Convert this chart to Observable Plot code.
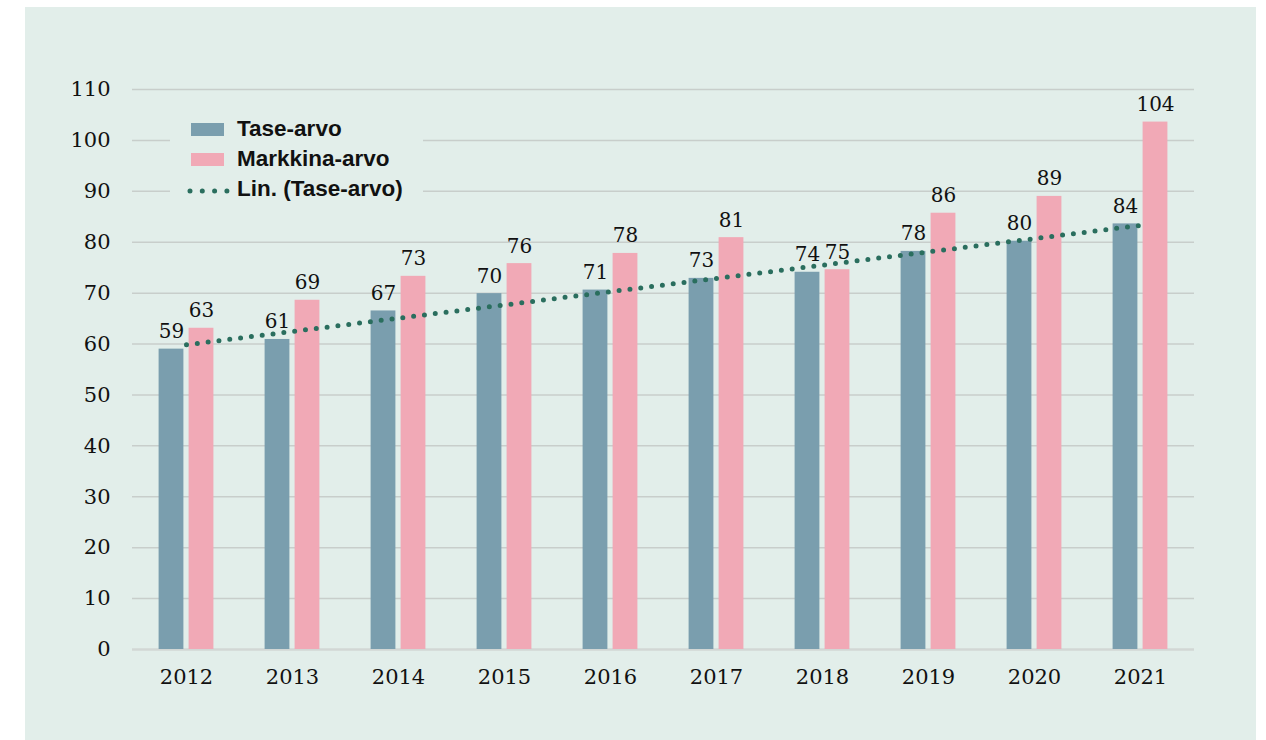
<!DOCTYPE html>
<html><head><meta charset="utf-8">
<script src="https://cdn.jsdelivr.net/npm/d3@7"></script>
<script src="https://cdn.jsdelivr.net/npm/@observablehq/plot@0.6"></script>
<style>
html,body{margin:0;padding:0;background:#ffffff;}
#panel{position:absolute;left:25px;top:7px;width:1231px;height:733px;background:#e2eeea;}
#chart{position:absolute;left:0;top:0;}
#legend{position:absolute;left:170px;top:104px;}
</style>
</head><body>
<div id="panel"></div>
<div id="chart"></div>
<div id="legend"></div>
<script>
// ---- data ----
const years = [2012, 2013, 2014, 2015, 2016, 2017, 2018, 2019, 2020, 2021];
const taseArvo = [59.0, 60.9, 66.5, 69.9, 70.6, 72.9, 74.1, 78.2, 80.2, 83.6];
const markkinaArvo = [63.1, 68.6, 73.3, 75.8, 77.8, 80.9, 74.6, 85.7, 89.0, 103.6];
const seriesNames = ["Tase-arvo", "Markkina-arvo", "Lin. (Tase-arvo)"];
const yTicks = [0, 10, 20, 30, 40, 50, 60, 70, 80, 90, 100, 110];

const colTase = "#7a9eae";
const colMark = "#f1a9b6";
const colTrend = "#2a6e5e";
const bg = "#e2eeea";

const tase = years.map((y, i) => ({year: y, value: taseArvo[i]}));
const mark = years.map((y, i) => ({year: y, value: markkinaArvo[i]}));

// linear trend of Tase-arvo (least squares over the year index)
const n = years.length;
const mx = d3.mean(d3.range(n));
const my = d3.mean(taseArvo);
const slope = d3.sum(d3.range(n), i => (i - mx) * (taseArvo[i] - my)) / d3.sum(d3.range(n), i => (i - mx) ** 2);
const trend = years.map((y, i) => ({year: y, value: my + slope * (i - mx)}));

const W = 1266, H = 740;
const mL = 132, mR = 72, mT = 89, mB = 91;
const bw = (W - mL - mR) / years.length;
const barW = 25, gap = 5;
const offs = (barW + gap) / 2;

const serif = "'DejaVu Serif', 'Liberation Serif', serif";

const chart = Plot.plot({
  width: W, height: H,
  marginLeft: mL, marginRight: mR, marginTop: mT, marginBottom: mB,
  style: {background: "transparent", fontFamily: serif, fontSize: "21px", color: "#111"},
  x: {type: "band", domain: years, padding: 0, label: null},
  y: {domain: [0, 110], label: null},
  marks: [
    Plot.ruleY(yTicks.filter(d => d > 0), {stroke: "#c8cecb", strokeWidth: 1.5}),
    Plot.ruleY([0], {stroke: "#d2d7d5", strokeWidth: 2.5}),
    Plot.barY(tase, {x: "year", y: "value", fill: colTase,
      insetLeft: bw / 2 - offs - barW / 2, insetRight: bw / 2 + offs - barW / 2}),
    Plot.barY(mark, {x: "year", y: "value", fill: colMark,
      insetLeft: bw / 2 + offs - barW / 2, insetRight: bw / 2 - offs - barW / 2}),
    Plot.line(trend, {x: "year", y: "value", stroke: colTrend, strokeWidth: 5,
      strokeDasharray: "0 10.9", strokeLinecap: "round"}),
    Plot.text(tase, {x: "year", y: "value", dx: -offs, dy: -11, lineAnchor: "bottom",
      text: d => String(Math.round(d.value)), fontSize: 20, fill: "#111"}),
    Plot.text(mark, {x: "year", y: "value", dx: offs, dy: -11, lineAnchor: "bottom",
      text: d => String(Math.round(d.value)), fontSize: 20, fill: "#111"}),
    Plot.axisY({ticks: yTicks, tickSize: 0, tickPadding: 22, label: null, fontSize: 21}),
    Plot.axisX({tickSize: 0, tickPadding: 20, label: null, fontSize: 21, tickFormat: d => String(d)})
  ]
});
document.getElementById("chart").appendChild(chart);

// ---- legend (HTML/SVG, overlays the plot like the original) ----
const lg = d3.select("#legend").append("svg").attr("width", 253).attr("height", 110);
lg.append("rect").attr("width", 253).attr("height", 110).attr("fill", bg);
const ox = 170, oy = 104;
const sw = [
  {name: seriesNames[0], kind: "rect", fill: colTase, base: 136},
  {name: seriesNames[1], kind: "rect", fill: colMark, base: 166},
  {name: seriesNames[2], kind: "dots", fill: colTrend, base: 195.5}
];
sw.forEach(s => {
  if (s.kind === "rect") {
    lg.append("rect").attr("x", 191 - ox).attr("y", s.base - 13 - oy).attr("width", 33).attr("height", 13).attr("fill", s.fill);
  } else {
    lg.append("line").attr("x1", 190 - ox).attr("x2", 227 - ox).attr("y1", 191 - oy).attr("y2", 191 - oy)
      .attr("stroke", s.fill).attr("stroke-width", 5).attr("stroke-linecap", "round").attr("stroke-dasharray", "0 12.3");
  }
  lg.append("text").attr("x", 237 - ox).attr("y", s.base - oy).text(s.name)
    .attr("font-family", "'Liberation Sans', Arial, sans-serif").attr("font-weight", "bold")
    .attr("font-size", 22.5).attr("fill", "#111");
});
</script>
</body></html>
